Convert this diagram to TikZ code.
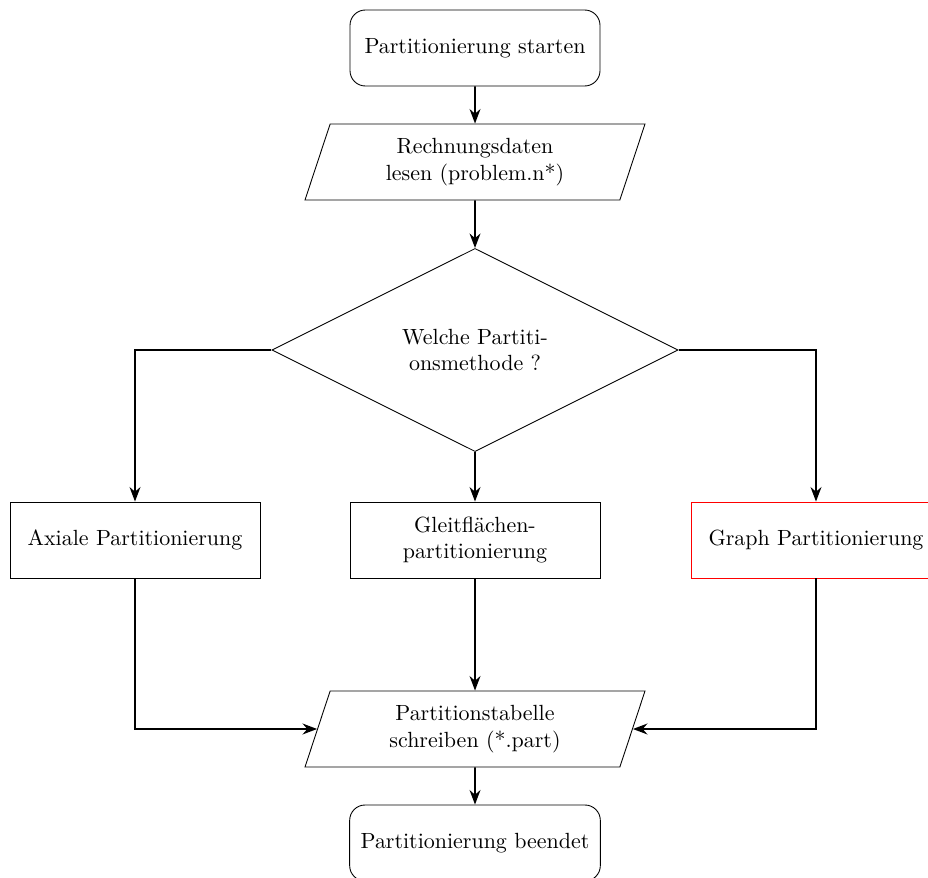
\documentclass[tikz,border=0pt]{standalone}
\usetikzlibrary{shapes.geometric,arrows.meta}

\tikzset{
	startstop/.style={rectangle, rounded corners=7pt, draw, align=center, minimum width=4cm, minimum height=1.216cm, inner sep=5pt},
	process/.style={rectangle, draw, align=center, minimum width=4cm, minimum height=1.216cm, inner sep=5pt},
	io/.style={trapezium, trapezium left angle=70, trapezium right angle=110, trapezium stretches body, draw, align=center, minimum width=5.44cm, minimum height=1.216cm, inner sep=5pt},
	decision/.style={diamond, aspect=2, draw, align=center, minimum width=6.5cm, minimum height=3.25cm},
	flow/.style={thick, -{Stealth}}
}

\begin{document}
\begin{tikzpicture}
		%%%%% START %%%%%
		\useasboundingbox (0, 0) rectangle (14.848, -14.048);
		
		\node[startstop] (start) at (7.6, -0.768) {Partitionierung starten};
		\node[io] (read) at (7.6, -2.592) {Rechnungsdaten\\lesen (problem.n*)};
		\node[decision] (method) at (7.6, -5.6) {Welche Partiti-\\onsmethode ?};
		
		\node[process] (axial) at (2.16, -8.64) {Axiale Partitionierung};
		\node[process] (glide) at (7.6, -8.64) {Gleitflächen-\\partitionierung};
		\node[process, draw=red] (graph) at (13.056, -8.64) {Graph Partitionierung};
		
		\node[io] (write) at (7.6, -11.664) {Partitionstabelle\\schreiben (*.part)};
		\node[startstop] (stop) at (7.6, -13.488) {Partitionierung beendet};
		
		\draw[flow] (start) -- (read);
		\draw[flow] (read) -- (method);
		\draw[flow] (method.west) -| (axial.north);
		\draw[flow] (method.south) -- (glide.north);
		\draw[flow] (method.east) -| (graph.north);
		
		\draw[flow] (axial.south) |- (write.west);
		\draw[flow] (glide.south) -- (write.north);
		\draw[flow] (graph.south) |- (write.east);
		\draw[flow] (write) -- (stop);
		
		%%%%% END %%%%%
	\end{tikzpicture}
\end{document}
